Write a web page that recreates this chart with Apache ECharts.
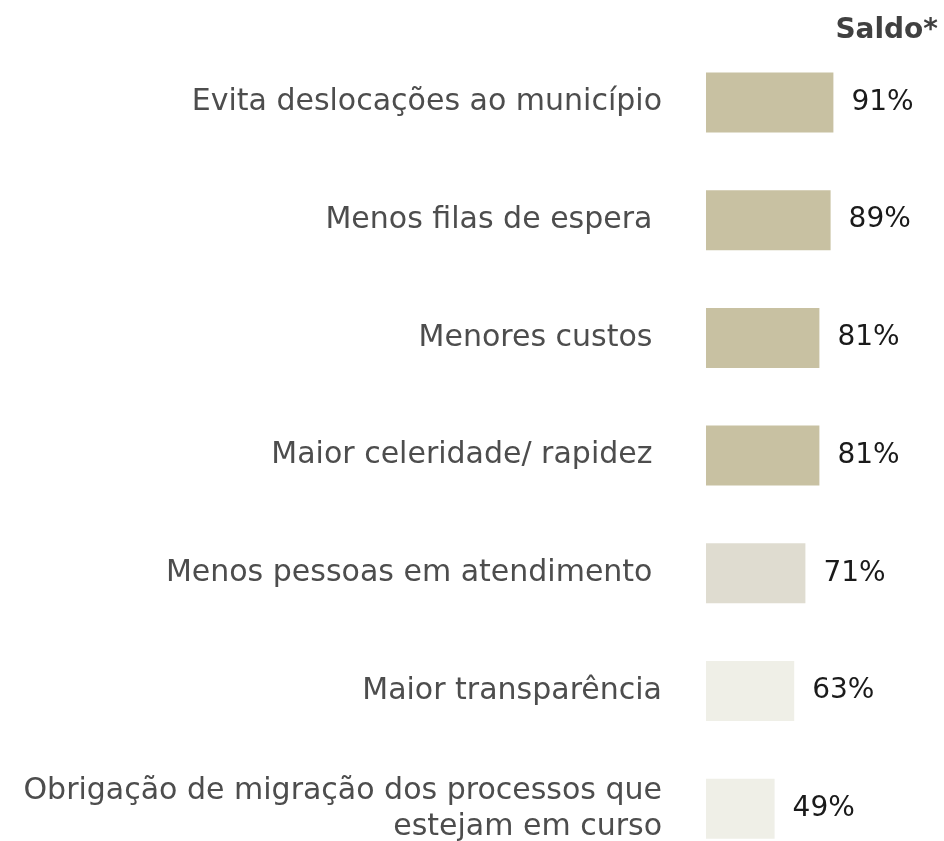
<!DOCTYPE html>
<html>
<head>
<meta charset="utf-8">
<script src="https://cdn.jsdelivr.net/npm/echarts@6/dist/echarts.min.js"></script>
<style>
  html, body { margin: 0; padding: 0; background: #ffffff; }
  #chart { width: 944px; height: 841px; }
</style>
</head>
<body>
<div id="chart"></div>
<script>
// categorias e saldos (%)
const categories = [
  'Evita deslocações ao município',
  'Menos filas de espera ',
  'Menores custos ',
  'Maior celeridade/ rapidez ',
  'Menos pessoas em atendimento ',
  'Maior transparência',
  'Obrigação de migração dos processos que\nestejam em curso'
]
const saldo = [91, 89, 81, 81, 71, 63, 49]
const barColors = ['#c8c1a2', '#c8c1a2', '#c8c1a2', '#c8c1a2', '#dfdcd0', '#efefe7', '#efefe7']

const chart = echarts.init(document.getElementById('chart'))

const option = {
  backgroundColor: '#ffffff',
  animation: false,
  textStyle: { fontFamily: 'DejaVu Sans' },
  title: {
    text: 'Saldo*',
    right: 1,
    top: 12,
    textStyle: {
      fontFamily: 'DejaVu Sans',
      fontSize: 28,
      fontWeight: 'bold',
      color: '#404040'
    }
  },
  grid: {
    left: 706,
    width: 140,
    top: 43.6,
    height: 824,
    outerBoundsMode: 'none'
  },
  xAxis: {
    type: 'value',
    min: 0,
    max: 100,
    show: false
  },
  yAxis: {
    type: 'category',
    data: categories,
    inverse: true,
    axisLine: { show: false },
    axisTick: { show: false },
    splitLine: { show: false },
    axisLabel: {
      margin: 44,
      fontFamily: 'DejaVu Sans',
      fontSize: 30,
      color: '#4d4d4d',
      align: 'right',
      lineHeight: 36
    }
  },
  series: [{
    type: 'bar',
    barWidth: 60,
    data: saldo.map((v, i) => ({ value: v, itemStyle: { color: barColors[i] } })),
    label: {
      show: true,
      position: 'right',
      distance: 18,
      formatter: '{c}%',
      fontFamily: 'DejaVu Sans',
      fontSize: 28,
      color: '#1a1a1a'
    }
  }]
}

chart.setOption(option)
</script>
</body>
</html>
